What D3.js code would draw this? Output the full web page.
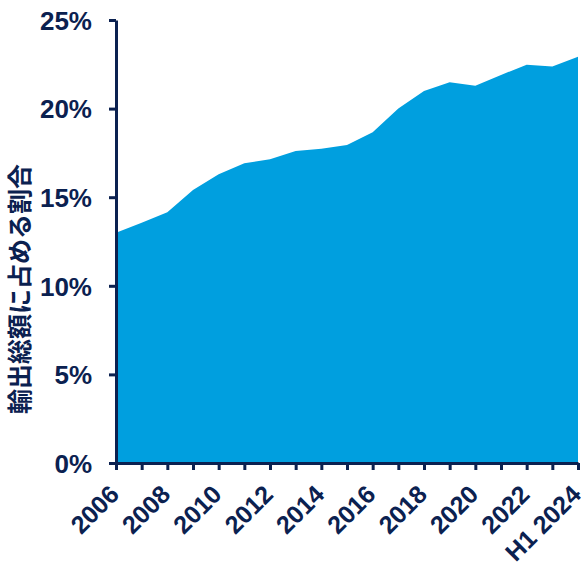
<!DOCTYPE html>
<html><head><meta charset="utf-8">
<script src="https://cdn.jsdelivr.net/npm/d3@7"></script>
<style>body{margin:0;background:#fff}</style>
</head><body>
<svg id="c" width="581" height="565"></svg>
<script>
const categories = ["2006","2007","2008","2009","2010","2011","2012","2013","2014","2015","2016","2017","2018","2019","2020","2021","2022","2023","H1 2024"];
const shares = [13.0,13.56,14.15,15.4,16.29,16.91,17.14,17.61,17.74,17.95,18.66,20.0,20.99,21.48,21.29,21.9,22.48,22.38,22.93];
const yTicks = [0,5,10,15,20,25];
const yTitle = "輸出総額に占める割合";

const navy = "#0B2150", fillC = "#009FDF";
const svg = d3.select("#c");
const mLeft = 116, mRight = 578, mTop = 20, mBottom = 463;

const x = d3.scalePoint().domain(categories).range([mLeft, mRight]);
const y = d3.scaleLinear().domain([0, 25]).range([mBottom, mTop]);

const data = categories.map((c, i) => ({c, v: shares[i]}));
svg.append("path").datum(data)
  .attr("fill", fillC)
  .attr("d", d3.area().x(d => x(d.c)).y0(y(0)).y1(d => y(d.v)));

const font = "'Liberation Sans', Arial, sans-serif";

const ya = svg.append("g").attr("transform", `translate(${mLeft},0)`)
  .call(d3.axisLeft(y).tickValues(yTicks).tickFormat(d => d + "%").tickSize(7).tickSizeOuter(0).tickPadding(17));
ya.select(".domain").attr("stroke", navy).attr("stroke-width", 3);
ya.selectAll(".tick line").attr("stroke", navy).attr("stroke-width", 3);
ya.selectAll(".tick text").attr("fill", navy).attr("font-family", font)
  .attr("font-weight", "bold").attr("font-size", 26).attr("dy", "0.36em");

const xa = svg.append("g").attr("transform", `translate(0,${mBottom})`)
  .call(d3.axisBottom(x).tickSize(7).tickSizeOuter(0)
    .tickFormat((d, i) => i % 2 === 0 ? d : ""));
xa.select(".domain").attr("stroke", navy).attr("stroke-width", 3);
xa.selectAll(".tick line").attr("stroke", navy).attr("stroke-width", 3);
xa.selectAll(".tick text").attr("fill", navy).attr("font-family", font)
  .attr("font-weight", "bold").attr("font-size", 25)
  .attr("text-anchor", "end").attr("dy", 0).attr("y", 0).attr("x", 0)
  .attr("transform", "translate(4,33) rotate(-45)");

svg.append("text")
  .attr("transform", "translate(29,289) rotate(-90)")
  .attr("text-anchor", "middle")
  .attr("fill", navy)
  .attr("font-family", "'Noto Sans CJK JP', sans-serif")
  .attr("font-weight", "bold").attr("font-size", 25)
  .text(yTitle);
</script>
</body></html>
